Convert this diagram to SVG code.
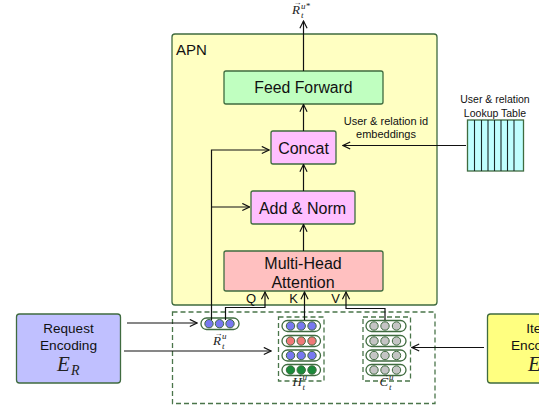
<svg xmlns="http://www.w3.org/2000/svg" width="539" height="408" viewBox="0 0 539 408">
<defs>
<marker id="arr" viewBox="0 0 10 10" refX="9" refY="5" markerWidth="9" markerHeight="9" markerUnits="userSpaceOnUse" orient="auto">
<path d="M1,1 L9,5 L1,9" fill="none" stroke="#111" stroke-width="1.3"/>
</marker>
<style>
.box{stroke:#3f6b3f;stroke-width:1.3}
.lbl{font-family:"Liberation Sans",Arial,sans-serif;fill:#111;text-anchor:middle}
.math{font-family:"Liberation Serif","DejaVu Serif",serif;font-style:italic;fill:#222}
.ln{fill:none;stroke:#111;stroke-width:1.2}
.pill{fill:#fff;stroke:#3f6b3f;stroke-width:1.3}
.dash{fill:none;stroke:#4a754a;stroke-width:1.3;stroke-dasharray:5,3}
.cb{fill:#7878f0;stroke:#3f6b3f;stroke-width:1}
.cr{fill:#f07878;stroke:#3f6b3f;stroke-width:1}
.cg{fill:#1a8a3a;stroke:#3f6b3f;stroke-width:1}
.cy{fill:#c4c4c4;stroke:#3f6b3f;stroke-width:1}
</style>
</defs>

<g id="apn">
<rect x="172" y="34" width="265" height="271" rx="3" fill="#ffffc2" class="box"/>
<text x="176" y="55" class="lbl" style="text-anchor:start" font-size="15">APN</text>
</g>

<g id="feed-forward">
<rect x="224" y="71" width="159" height="33" rx="2" fill="#c0ffc0" class="box"/>
<text x="303.5" y="92.8" class="lbl" font-size="15.8">Feed Forward</text>
</g>

<g id="concat">
<rect x="271" y="131" width="65" height="33" rx="2" fill="#ffbfff" class="box"/>
<text x="303.5" y="153.5" class="lbl" font-size="16">Concat</text>
</g>

<g id="add-norm">
<rect x="251" y="191" width="104" height="33" rx="2" fill="#ffbfff" class="box"/>
<text x="302.5" y="214" class="lbl" font-size="16">Add &amp; Norm</text>
</g>

<g id="mha">
<rect x="224" y="251" width="159" height="40" rx="2" fill="#ffc0c0" class="box"/>
<text x="303" y="268.5" class="lbl" font-size="16">Multi-Head</text>
<text x="303" y="287.5" class="lbl" font-size="16">Attention</text>
</g>

<g id="lookup-table">
<text x="495" y="103" class="lbl" font-size="10.5">User &amp; relation</text>
<text x="495" y="117" class="lbl" font-size="10.5">Lookup Table</text>
<rect x="467.5" y="120" width="56" height="51" fill="#c0ffff" class="box"/>
<path d="M474.5,120V171M481.5,120V171M488,120V171M494.5,120V171M501,120V171M507.5,120V171M514,120V171" stroke="#1a2a2a" stroke-width="1.1"/>
</g>

<g id="request-encoding">
<rect x="16.5" y="314" width="104" height="69" rx="3" fill="#c0c0ff" class="box"/>
<text x="68.5" y="332.5" class="lbl" font-size="13.5">Request</text>
<text x="68.5" y="349.5" class="lbl" font-size="13.7">Encoding</text>
<text x="57" y="371" class="math" font-size="21">E</text>
<text x="71" y="375" class="math" font-size="14">R</text>
</g>

<g id="item-encoding">
<rect x="487.5" y="314" width="104" height="69" rx="3" fill="#ffff80" class="box"/>
<text x="539.5" y="332.5" class="lbl" font-size="13.5">Item</text>
<text x="539.5" y="349.5" class="lbl" font-size="13.7">Encoding</text>
<text x="528" y="371" class="math" font-size="21">E</text>
<text x="542" y="375" class="math" font-size="14">I</text>
</g>

<g id="input-region">
<rect x="172.5" y="312" width="262.5" height="91.5" class="dash"/>
</g>

<g id="request-vector">
<rect x="201" y="318" width="38" height="11.5" rx="5.5" class="pill"/>
<circle cx="209" cy="323.7" r="4.2" class="cb"/>
<circle cx="219.5" cy="323.7" r="4.2" class="cb"/>
<circle cx="230" cy="323.7" r="4.2" class="cb"/>
<text x="213" y="345" class="math" font-size="13">R</text>
<text x="214.5" y="336" class="math" font-size="8" style="font-style:normal">→</text>
<text x="222" y="339" class="math" font-size="9">u</text>
<text x="222" y="349" class="math" font-size="9">t</text>
</g>

<g id="history-matrix">
<rect x="278.5" y="317" width="45.5" height="64" class="dash"/>
<rect x="282" y="320.5" width="38.5" height="11" rx="5.5" class="pill"/>
<rect x="282" y="335.5" width="38.5" height="11" rx="5.5" class="pill"/>
<rect x="282" y="350" width="38.5" height="11" rx="5.5" class="pill"/>
<rect x="282" y="364.5" width="38.5" height="11" rx="5.5" class="pill"/>
<circle cx="290.5" cy="326" r="4.2" class="cb"/><circle cx="301.2" cy="326" r="4.2" class="cb"/><circle cx="312" cy="326" r="4.2" class="cb"/>
<circle cx="290.5" cy="341" r="4.2" class="cr"/><circle cx="301.2" cy="341" r="4.2" class="cr"/><circle cx="312" cy="341" r="4.2" class="cr"/>
<circle cx="290.5" cy="355.5" r="4.2" class="cb"/><circle cx="301.2" cy="355.5" r="4.2" class="cb"/><circle cx="312" cy="355.5" r="4.2" class="cb"/>
<circle cx="290.5" cy="370" r="4.2" class="cg"/><circle cx="301.2" cy="370" r="4.2" class="cg"/><circle cx="312" cy="370" r="4.2" class="cg"/>
<text x="292.5" y="386" class="math" font-size="13">H</text>
<text x="294.5" y="377" class="math" font-size="8" style="font-style:normal">→</text>
<text x="302.5" y="380" class="math" font-size="9">u</text>
<text x="302.5" y="390" class="math" font-size="9">t</text>
</g>

<g id="candidate-matrix">
<rect x="363" y="317" width="47.5" height="64" class="dash"/>
<rect x="366" y="320.5" width="40" height="11" rx="5.5" class="pill"/>
<rect x="366" y="335.5" width="40" height="11" rx="5.5" class="pill"/>
<rect x="366" y="350" width="40" height="11" rx="5.5" class="pill"/>
<rect x="366" y="364.5" width="40" height="11" rx="5.5" class="pill"/>
<circle cx="374" cy="326" r="4.2" class="cy"/><circle cx="385" cy="326" r="4.2" class="cy"/><circle cx="396.5" cy="326" r="4.2" class="cy"/>
<circle cx="374" cy="341" r="4.2" class="cy"/><circle cx="385" cy="341" r="4.2" class="cy"/><circle cx="396.5" cy="341" r="4.2" class="cy"/>
<circle cx="374" cy="355.5" r="4.2" class="cy"/><circle cx="385" cy="355.5" r="4.2" class="cy"/><circle cx="396.5" cy="355.5" r="4.2" class="cy"/>
<circle cx="374" cy="370" r="4.2" class="cy"/><circle cx="385" cy="370" r="4.2" class="cy"/><circle cx="396.5" cy="370" r="4.2" class="cy"/>
<text x="379.5" y="386" class="math" font-size="13">C</text>
<text x="381" y="377" class="math" font-size="8" style="font-style:normal">→</text>
<text x="389" y="380" class="math" font-size="9">u</text>
<text x="389" y="390" class="math" font-size="9">t</text>
</g>

<g id="output-label">
<text x="292" y="14" class="math" font-size="13">R</text>
<text x="293.5" y="5" class="math" font-size="8" style="font-style:normal">→</text>
<text x="301" y="9" class="math" font-size="9">u*</text>
<text x="301" y="18" class="math" font-size="9">t</text>
</g>

<g id="connectors">
<path d="M303.5,71V21" class="ln" marker-end="url(#arr)"/>
<path d="M303.5,131V104.5" class="ln" marker-end="url(#arr)"/>
<path d="M303.5,191V164.5" class="ln" marker-end="url(#arr)"/>
<path d="M303.5,251V224.5" class="ln" marker-end="url(#arr)"/>
<path d="M211.5,320V150H269" class="ln" marker-end="url(#arr)"/>
<path d="M211.5,207H249.5" class="ln" marker-end="url(#arr)"/>
<path d="M466,145.5H343" class="ln" marker-end="url(#arr)"/>
<path d="M225.5,320V307.5H265V292" class="ln" marker-end="url(#arr)"/>
<path d="M304.5,320V292" class="ln" marker-end="url(#arr)"/>
<path d="M385,320V308.5H346V292" class="ln" marker-end="url(#arr)"/>
<path d="M127,323H197" class="ln" marker-end="url(#arr)"/>
<path d="M124,351H271" class="ln" marker-end="url(#arr)"/>
<path d="M484,347.5H412" class="ln" marker-end="url(#arr)"/>
<text x="251" y="302.5" class="lbl" font-size="13">Q</text>
<text x="293.5" y="302.5" class="lbl" font-size="13">K</text>
<text x="335.5" y="302.5" class="lbl" font-size="13">V</text>
<text x="386" y="124.5" class="lbl" font-size="11">User &amp; relation id</text>
<text x="386" y="138" class="lbl" font-size="11">embeddings</text>
</g>
</svg>
